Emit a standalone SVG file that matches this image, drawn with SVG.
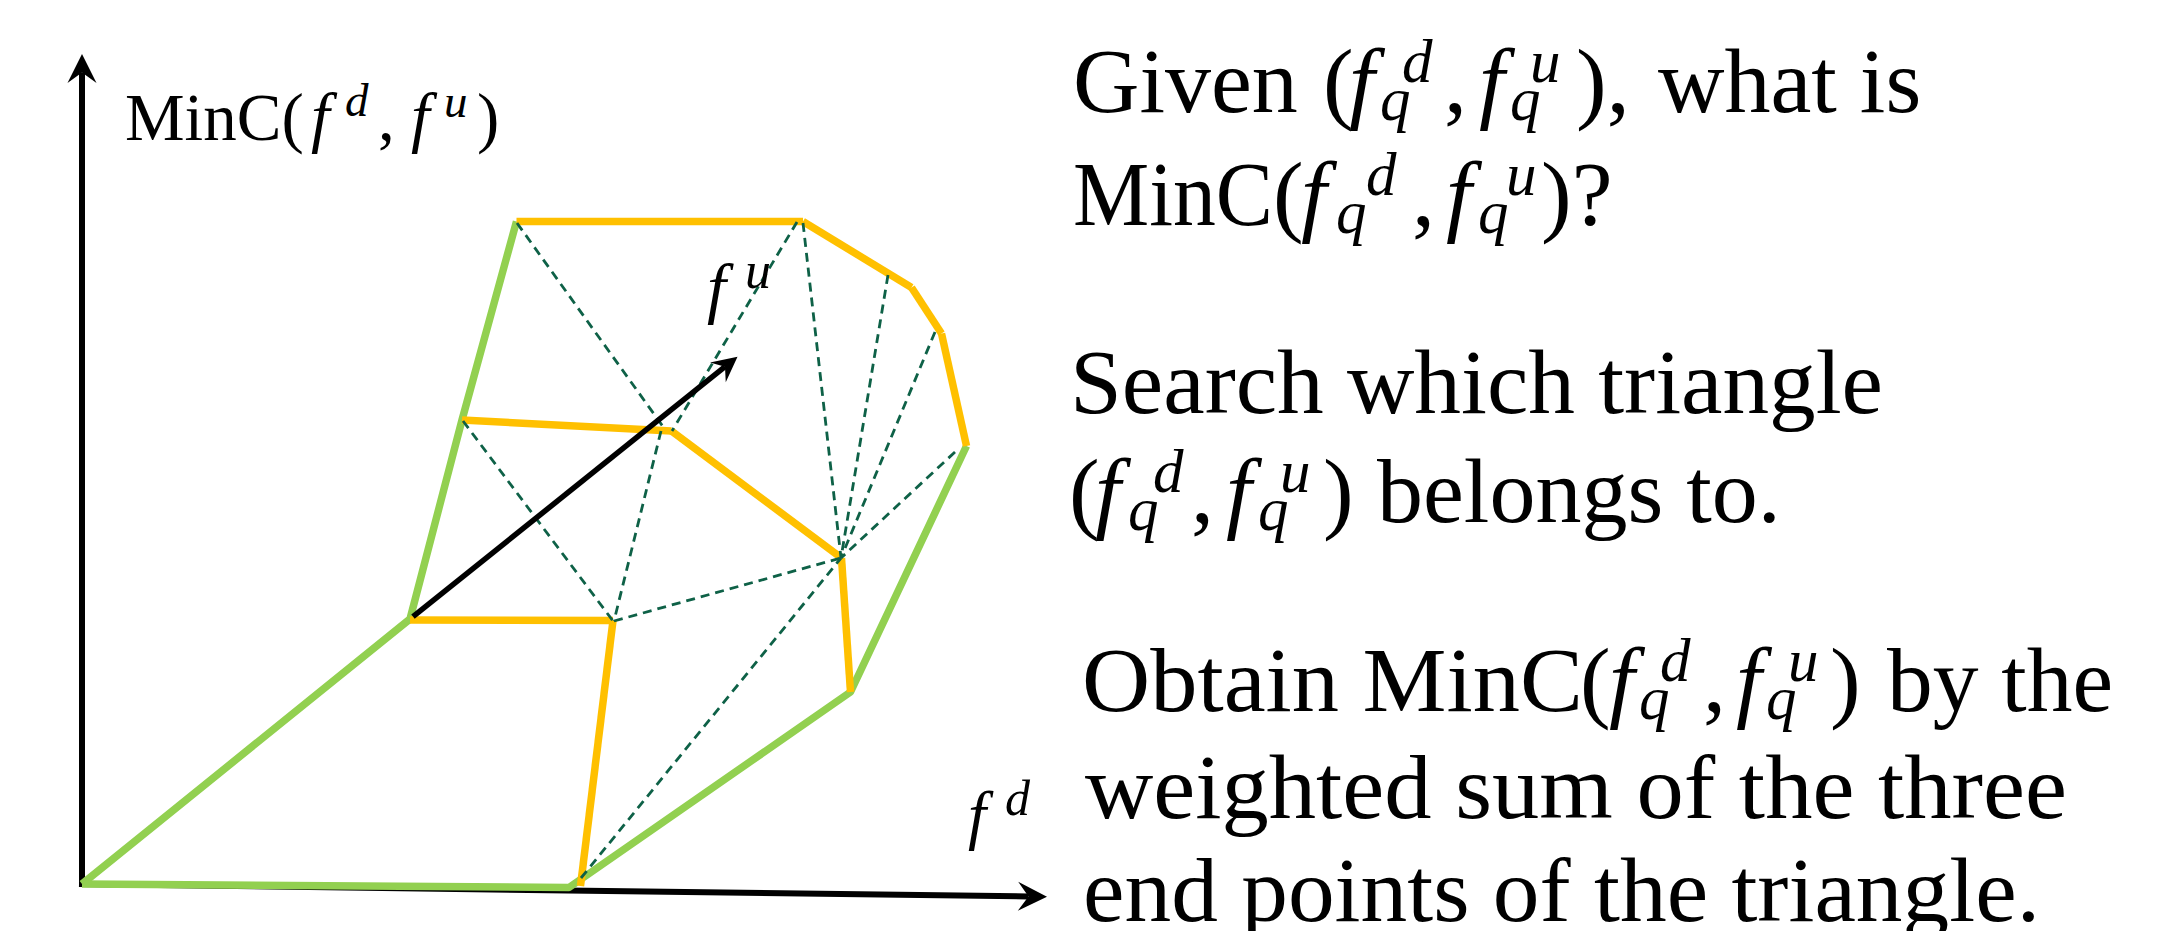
<svg xmlns="http://www.w3.org/2000/svg" width="2184" height="931" viewBox="0 0 2184 931">
<style>
text{font-family:"Liberation Serif","Times New Roman",serif;fill:#000}
.it{font-style:italic}
.axis{stroke:#000;stroke-width:6;fill:none}
.vec{stroke:#000;stroke-width:5.5;fill:none}
.grn{stroke:#92D050;stroke-width:7.5;fill:none;stroke-linejoin:round}
.ylw{stroke:#FFC000;stroke-width:7.5;fill:none}
.dash{stroke:#0E6147;stroke-width:2.8;fill:none;stroke-dasharray:9 6}
.big{font-size:92px}
.scr{font-size:61px}
</style>
<defs>
<marker id="ah" viewBox="-30 -15 31 30" markerWidth="31" markerHeight="30" refX="-18.5" refY="0" orient="auto" markerUnits="userSpaceOnUse">
<path d="M0,0 L-29,-14.5 L-18.5,0 L-29,14.5 Z" fill="#000"/>
</marker>
<marker id="ah2" viewBox="-30 -15 31 30" markerWidth="27" markerHeight="26" refX="-18.5" refY="0" orient="auto" markerUnits="userSpaceOnUse">
<path d="M0,0 L-29,-14.5 L-18.5,0 L-29,14.5 Z" fill="#000"/>
</marker>
</defs>
<rect width="2184" height="931" fill="#fff"/>

<g id="axes">
<line class="axis" x1="82" y1="887" x2="82" y2="72.5" marker-end="url(#ah)"/>
<line class="axis" x1="79" y1="884" x2="1028.5" y2="896.5" marker-end="url(#ah)"/>
</g>

<g id="surface-boundary">
<polyline class="grn" points="82,884 410,619 462,420 516.5,221.5"/>
<polyline class="grn" points="82,884 569,887.5 850.5,692 966.5,446"/>
</g>

<g id="surface-edges">
<line class="ylw" x1="410" y1="620" x2="613" y2="620.5"/>
<line class="ylw" x1="613" y1="620.5" x2="580.5" y2="886"/>
<line class="ylw" x1="462" y1="420" x2="671.5" y2="431"/>
<line class="ylw" x1="671.5" y1="431" x2="841.5" y2="558"/>
<line class="ylw" x1="841.5" y1="558" x2="850.5" y2="692"/>
<line class="ylw" x1="516.5" y1="221.5" x2="803" y2="221.5"/>
<line class="ylw" x1="803" y1="221.5" x2="911.5" y2="287.5"/>
<line class="ylw" x1="911.5" y1="287.5" x2="941.5" y2="333.5"/>
<line class="ylw" x1="941.5" y1="333.5" x2="966.5" y2="446"/>
</g>

<g id="connectors">
<line class="dash" x1="517" y1="223" x2="664" y2="428"/>
<line class="dash" x1="797" y1="222" x2="672" y2="431"/>
<line class="dash" x1="661" y1="431" x2="614" y2="621"/>
<line class="dash" x1="463" y1="421" x2="613" y2="621"/>
<line class="dash" x1="614" y1="621" x2="841" y2="558"/>
<line class="dash" x1="581" y1="878" x2="841" y2="558"/>
<line class="dash" x1="803" y1="223" x2="841" y2="558"/>
<line class="dash" x1="888" y1="275" x2="841" y2="558"/>
<line class="dash" x1="935" y1="332" x2="841" y2="558"/>
<line class="dash" x1="955" y1="452" x2="841" y2="558"/>
</g>

<g id="fu-vector">
<line class="vec" x1="413" y1="616.7" x2="725" y2="366.7" marker-end="url(#ah2)"/>
</g>

<g id="label-minc" font-size="67">
<text x="125" y="140">MinC(<tspan class="it" x="311">f</tspan><tspan class="it" x="345" y="116" font-size="47">d</tspan><tspan x="378" y="140">,</tspan><tspan class="it" x="411">f</tspan><tspan class="it" x="444" y="117" font-size="47">u</tspan><tspan x="477" y="140">)</tspan></text>
</g>

<g id="label-fu">
<text x="707" y="311" font-size="68" class="it">f<tspan x="745" y="288" font-size="52">u</tspan></text>
</g>

<g id="label-fd">
<text x="968" y="837" font-size="65" class="it">f<tspan x="1005" y="815" font-size="50">d</tspan></text>
</g>

<g id="text-question" class="big">
<text x="1073" y="112">Given<tspan x="1323">(</tspan><tspan class="it" x="1349">f</tspan><tspan class="it scr" x="1380" y="120">q</tspan><tspan class="it scr" x="1402" y="82">d</tspan><tspan x="1444" y="112">,</tspan><tspan class="it" x="1479">f</tspan><tspan class="it scr" x="1510" y="120">q</tspan><tspan class="it scr" x="1530" y="82">u</tspan><tspan x="1576" y="112">),</tspan><tspan x="1658">what is</tspan></text>
<text y="225"><tspan x="1073" textLength="200" lengthAdjust="spacingAndGlyphs">MinC</tspan><tspan x="1273">(</tspan><tspan class="it" x="1301">f</tspan><tspan class="it scr" x="1336" y="233">q</tspan><tspan class="it scr" x="1366" y="195">d</tspan><tspan x="1412" y="225">,</tspan><tspan class="it" x="1446">f</tspan><tspan class="it scr" x="1478" y="233">q</tspan><tspan class="it scr" x="1506" y="195">u</tspan><tspan x="1541" y="225">)?</tspan></text>
</g>

<g id="text-search" class="big">
<text x="1070" y="413" textLength="813" lengthAdjust="spacingAndGlyphs">Search which triangle</text>
<text y="522"><tspan x="1069">(</tspan><tspan class="it" x="1095">f</tspan><tspan class="it scr" x="1128" y="530">q</tspan><tspan class="it scr" x="1153" y="492">d</tspan><tspan x="1191" y="522">,</tspan><tspan class="it" x="1226">f</tspan><tspan class="it scr" x="1258" y="530">q</tspan><tspan class="it scr" x="1280" y="492">u</tspan><tspan x="1323" y="522">)</tspan><tspan x="1377">belongs to.</tspan></text>
</g>

<g id="text-obtain" class="big">
<text y="711"><tspan x="1082" textLength="501" lengthAdjust="spacingAndGlyphs">Obtain MinC</tspan><tspan x="1580">(</tspan><tspan class="it" x="1609">f</tspan><tspan class="it scr" x="1639" y="719">q</tspan><tspan class="it scr" x="1660" y="681">d</tspan><tspan x="1703" y="711">,</tspan><tspan class="it" x="1736">f</tspan><tspan class="it scr" x="1766" y="719">q</tspan><tspan class="it scr" x="1788" y="681">u</tspan><tspan x="1830" y="711">)</tspan><tspan x="1887" textLength="226" lengthAdjust="spacingAndGlyphs">by the</tspan></text>
<text x="1085" y="818" textLength="982" lengthAdjust="spacingAndGlyphs">weighted sum of the three</text>
<text x="1083" y="921" textLength="957" lengthAdjust="spacingAndGlyphs">end points of the triangle.</text>
</g>
</svg>
